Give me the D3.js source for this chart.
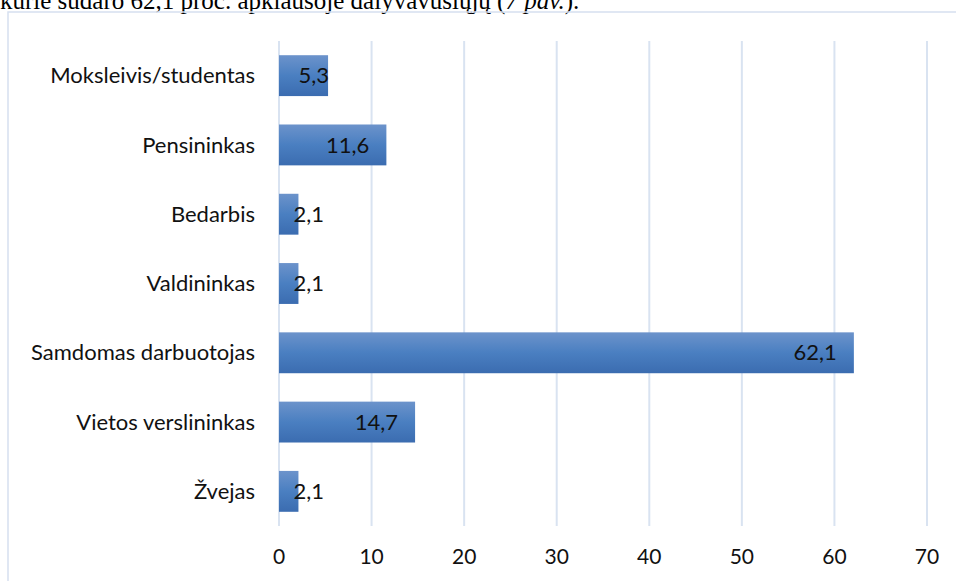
<!DOCTYPE html>
<html lang="lt">
<head>
    <meta charset="UTF-8">
    <title>Respondentų užsiėmimas</title>
    <script src="https://d3js.org/d3.v7.min.js"></script>
    <style>
        body { margin: 0; background: #fff; overflow: hidden; }
        .cat-label { font-family: Lato, "Open Sans", sans-serif; font-size: 22px; fill: #111; }
        .tick-label { font-family: Lato, "Open Sans", sans-serif; font-size: 21px; fill: #111; }
        .value-label { font-family: Lato, "Open Sans", sans-serif; font-size: 22px; fill: #111; }
        .grid-line { stroke: #d9e3f1; stroke-width: 2; }
        .caption { font-family: "Liberation Serif", "DejaVu Serif", serif; font-size: 25px; fill: #000; }
    </style>
</head>
<body>
    <div id="chart"></div>
    <script>
        const categories = ["Moksleivis/studentas", "Pensininkas", "Bedarbis", "Valdininkas",
                            "Samdomas darbuotojas", "Vietos verslininkas", "Žvejas"];
        const values = [5.3, 11.6, 2.1, 2.1, 62.1, 14.7, 2.1];
        const xTicks = [0, 10, 20, 30, 40, 50, 60, 70];

        const width = 956, height = 581;
        const plot = { left: 279, right: 927, top: 41, bottom: 526 };

        const svg = d3.select("#chart").append("svg")
            .attr("width", width)
            .attr("height", height);

        // bar gradient, lighter on top like the office style
        const grad = svg.append("defs").append("linearGradient")
            .attr("id", "barGrad")
            .attr("x1", 0).attr("y1", 0).attr("x2", 0).attr("y2", 1);
        grad.append("stop").attr("offset", "0%").attr("stop-color", "#6c93cb");
        grad.append("stop").attr("offset", "50%").attr("stop-color", "#4a7fc1");
        grad.append("stop").attr("offset", "100%").attr("stop-color", "#3b6cb0");

        // text of the page above the figure (cut off at the top, as in the scan)
        const caption = svg.append("text")
            .attr("class", "caption")
            .attr("x", 0).attr("y", 9);
        caption.append("tspan").text("kurie sudaro 62,1 proc. apklausoje dalyvavusiųjų (");
        caption.append("tspan").attr("font-style", "italic").text("7 pav.");
        caption.append("tspan").text(").");

        // chart frame
        svg.append("rect")
            .attr("x", 8).attr("y", 12)
            .attr("width", 1000).attr("height", 700)
            .attr("fill", "none")
            .attr("stroke", "#d6e0f0")
            .attr("stroke-width", 1.5);

        const x = d3.scaleLinear()
            .domain([0, 70])
            .range([plot.left, plot.right]);

        const y = d3.scaleBand()
            .domain(categories)
            .range([plot.top, plot.bottom])
            .paddingInner(0.41)
            .paddingOuter(0.205);

        // gridlines
        svg.append("g").selectAll("line")
            .data(xTicks)
            .join("line")
            .attr("class", "grid-line")
            .attr("x1", d => x(d)).attr("x2", d => x(d))
            .attr("y1", plot.top).attr("y2", plot.bottom);

        // x tick labels
        svg.append("g").selectAll("text")
            .data(xTicks)
            .join("text")
            .attr("class", "tick-label")
            .attr("x", d => x(d))
            .attr("y", 564)
            .attr("text-anchor", "middle")
            .text(d => d);

        // category labels
        svg.append("g").selectAll("text")
            .data(categories)
            .join("text")
            .attr("class", "cat-label")
            .attr("x", plot.left - 24)
            .attr("y", d => y(d) + y.bandwidth() / 2)
            .attr("dy", "0.35em")
            .attr("text-anchor", "end")
            .text(d => d);

        const data = categories.map((c, i) => ({ cat: c, val: values[i] }));

        // bars
        svg.append("g").selectAll("rect")
            .data(data)
            .join("rect")
            .attr("x", x(0))
            .attr("y", d => y(d.cat))
            .attr("width", d => x(d.val) - x(0))
            .attr("height", y.bandwidth())
            .attr("fill", "url(#barGrad)");

        // value labels, inside end (pushed out when the bar is too short)
        const fmt = v => d3.format(".1f")(v).replace(".", ",");
        svg.append("g").selectAll("text")
            .data(data)
            .join("text")
            .attr("class", "value-label")
            .attr("x", d => {
                const w = x(d.val) - x(0);
                return w >= 70 ? x(d.val) - 17 : Math.max(x(d.val) + 1, x(0) + 45);
            })
            .attr("y", d => y(d.cat) + y.bandwidth() / 2)
            .attr("dy", "0.35em")
            .attr("text-anchor", "end")
            .text(d => fmt(d.val));
    </script>
</body>
</html>
